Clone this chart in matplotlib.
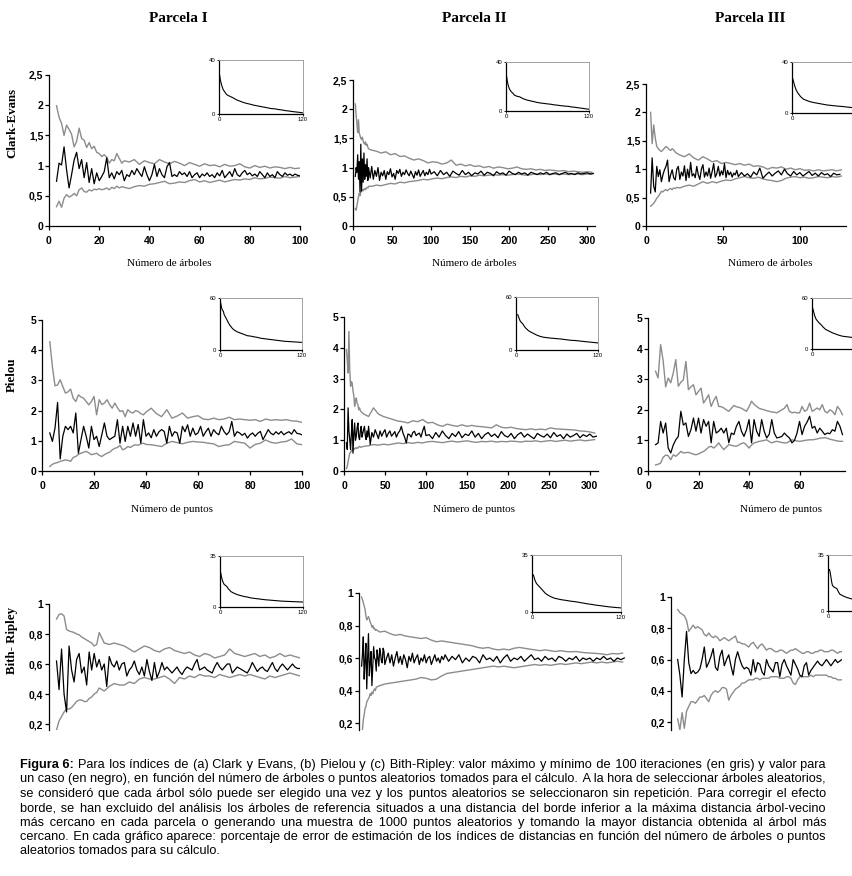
import numpy as np
import matplotlib
matplotlib.use("Agg")
import matplotlib.pyplot as plt

W, H = 852, 876
GRAY = "#8c8c8c"
SERIF = "Liberation Serif"
SANS = "Liberation Sans"
CAP_FAM = [SANS, "DejaVu Sans"]

# ---------------- datos: Clark-Evans ----------------
ce1_xg = list(range(3, 31)) + list(range(32, 101, 2))
ce1_hi = [1.99, 1.8, 1.7, 1.5, 1.67, 1.6, 1.52, 1.31, 1.4, 1.62, 1.45, 1.42, 1.3, 1.38, 1.28, 1.32, 1.22, 1.2,
          1.15, 1.18, 1.14, 1.04, 1.1, 1.08, 1.2, 1.12, 1.04, 1.08,
          1.06, 1.1, 1.02, 1.08, 1.05, 1.03, 1.1, 1.06, 1.03, 1.07, 1.04, 1.0, 1.05, 1.02, 0.99, 1.03, 1.0, 1.01,
          0.98, 1.02, 0.99, 1.0, 1.03, 0.98, 0.96, 1.0, 0.97, 0.99, 0.96, 0.98, 0.97, 0.95, 0.97, 0.95, 0.96]
ce1_lo = [0.32, 0.41, 0.31, 0.46, 0.52, 0.48, 0.5, 0.54, 0.5, 0.6, 0.63, 0.57, 0.56, 0.6, 0.58, 0.61, 0.6, 0.62,
          0.6, 0.61, 0.63, 0.6, 0.64, 0.62, 0.66, 0.63, 0.65, 0.64,
          0.62, 0.65, 0.67, 0.66, 0.69, 0.7, 0.72, 0.74, 0.7, 0.71, 0.73, 0.72, 0.75, 0.77, 0.73, 0.75, 0.72, 0.74,
          0.76, 0.73, 0.75, 0.77, 0.76, 0.78, 0.77, 0.8, 0.78, 0.79, 0.81, 0.8, 0.79, 0.82, 0.8, 0.81, 0.82]
ce1_xk = list(range(3, 101))
ce1_k = [0.74, 1.04, 1.01, 1.31, 0.93, 0.63, 0.85, 1.09, 1.22, 0.95,
         1.1, 0.8, 1.05, 0.72, 0.95, 0.7, 0.88, 0.75, 0.82, 0.9,
         1.13, 0.8, 0.88, 0.78, 0.9, 0.85, 0.92, 0.75, 0.85, 0.82,
         0.92, 0.85, 0.95, 0.88, 0.82, 0.98, 0.85, 0.75, 0.85, 1.02,
         0.82, 0.95, 0.85, 0.8, 0.98, 1.05, 0.82, 0.85, 0.82, 0.9,
         0.85, 0.88, 0.82, 0.9, 0.8, 0.85, 0.88, 0.8, 0.86, 0.83,
         0.88, 0.82, 0.85, 0.8, 0.88, 0.83, 0.92, 0.8, 0.85, 0.9,
         0.82, 0.95, 0.85, 0.82, 0.88, 0.92, 0.85, 0.88, 0.83, 0.86,
         0.82, 0.9, 0.85, 0.8, 0.88, 0.82, 0.85, 0.8, 0.9, 0.85,
         0.82, 0.88, 0.84, 0.86, 0.83, 0.86, 0.84, 0.83]

ce2_xg = list(range(3, 21)) + list(range(24, 311, 6))
ce2_hi = [2.09, 1.9, 1.76, 1.6, 1.82, 1.59, 1.55, 1.5, 1.48, 1.52, 1.45, 1.42, 1.4, 1.44, 1.38, 1.4, 1.35, 1.32,
          1.3, 1.28, 1.25, 1.27, 1.22, 1.24, 1.19, 1.2, 1.16, 1.13, 1.15, 1.12, 1.08, 1.1, 1.09, 1.06, 1.08, 1.13,
          1.04, 1.06, 1.03, 1.05, 1.02, 1.03, 1.0, 1.02, 0.99, 1.01, 1.0, 0.98, 0.99, 1.01, 0.98, 0.97, 0.98, 0.96,
          0.97, 0.95, 0.96, 0.95, 0.94, 0.95, 0.93, 0.94, 0.93, 0.92, 0.93, 0.92]
ce2_lo = [0.3, 0.27, 0.35, 0.42, 0.5, 0.56, 0.52, 0.58, 0.6, 0.62, 0.6, 0.63, 0.64, 0.62, 0.65, 0.66, 0.65, 0.68,
          0.68, 0.7, 0.69, 0.71, 0.73, 0.72, 0.75, 0.74, 0.76, 0.77, 0.78, 0.8, 0.79, 0.81, 0.82, 0.81, 0.83, 0.84,
          0.83, 0.85, 0.84, 0.86, 0.85, 0.87, 0.86, 0.87, 0.88, 0.87, 0.88, 0.87, 0.88, 0.89, 0.88, 0.87, 0.88,
          0.89, 0.88, 0.89, 0.88, 0.89, 0.88, 0.89, 0.88, 0.89, 0.89, 0.88, 0.89, 0.89]
ce2_xk = list(range(3, 21)) + list(range(22, 101, 2)) + list(range(104, 310, 4))
ce2_k = [0.85, 1.0, 0.92, 1.22, 0.8, 1.1, 0.58, 1.4, 0.6, 1.15, 0.75, 1.25, 0.8, 1.05, 0.85, 1.15, 0.78, 1.0,
         0.82, 1.02, 0.8, 0.95, 0.85, 1.0, 0.78, 0.92, 0.86, 0.95, 0.8, 0.93, 0.88, 0.98, 0.84, 0.9, 0.8, 0.95,
         0.9, 0.97, 0.85, 0.92, 0.88, 0.96, 0.9, 0.86, 0.94, 0.88, 0.82, 0.93, 0.87, 0.96, 0.85, 0.9, 0.95, 0.86,
         0.92, 0.88, 0.97, 0.89,
         0.93, 0.86, 0.95, 0.88, 0.92, 0.85, 0.94, 0.9, 0.87, 0.95, 0.88, 0.92, 0.86, 0.91, 0.89, 0.94, 0.87,
         0.92, 0.9, 0.86, 0.93, 0.89, 0.91, 0.87, 0.94, 0.9, 0.88, 0.92, 0.89, 0.91, 0.87, 0.92, 0.9, 0.88, 0.91,
         0.89, 0.92, 0.88, 0.9, 0.91, 0.88, 0.9, 0.92, 0.89, 0.9, 0.88, 0.91, 0.89, 0.9, 0.91, 0.89, 0.9]

ce3_xg = list(range(3, 21)) + list(range(22, 128, 3))
ce3_hi = [2.0, 1.45, 1.78, 1.55, 1.4, 1.36, 1.33, 1.31, 1.34, 1.37, 1.4, 1.38, 1.35, 1.33, 1.36, 1.34, 1.3, 1.28,
          1.25, 1.22, 1.27, 1.2, 1.16, 1.22, 1.18, 1.13, 1.15, 1.1, 1.12, 1.1, 1.08, 1.1, 1.07, 1.09, 1.05, 1.06,
          1.04, 1.0, 1.03, 1.02, 1.04, 1.0, 1.02, 0.99, 1.01, 0.98, 0.99, 0.97, 0.99, 0.97, 0.98, 0.99, 0.97, 0.99]
ce3_lo = [0.35, 0.37, 0.4, 0.44, 0.49, 0.52, 0.56, 0.61, 0.6, 0.63, 0.64, 0.62, 0.65, 0.66, 0.64, 0.67, 0.66, 0.68,
          0.67, 0.7, 0.72, 0.7, 0.74, 0.78, 0.75, 0.78, 0.76, 0.79, 0.81, 0.8, 0.83, 0.85, 0.87, 0.85, 0.84, 0.86,
          0.83, 0.81, 0.8, 0.78, 0.8, 0.84, 0.86, 0.87, 0.85, 0.86, 0.84, 0.85, 0.87, 0.86, 0.85, 0.87, 0.86, 0.88]
ce3_xk = list(range(3, 61)) + list(range(62, 128, 2))
ce3_k = [0.58, 1.2, 0.7, 0.6, 1.05, 0.87, 0.99, 0.78, 0.9, 0.99, 1.05, 1.16, 0.78, 0.9, 0.99, 0.85, 0.81, 1.0,
         1.05, 0.82, 0.95, 0.88, 1.06, 0.8, 1.0, 0.85, 1.12, 0.88, 0.92, 0.85, 1.05, 0.9, 0.82, 1.0, 1.08, 0.86,
         0.95, 0.88, 1.02, 0.84, 0.96, 1.1, 0.86, 0.92, 1.05, 0.88, 0.97, 0.9, 1.1, 0.85, 0.98, 0.9, 0.95, 0.86,
         0.93, 0.9, 0.98, 0.87,
         0.94, 0.88, 0.92, 0.86, 0.95, 0.9, 1.02, 0.84, 0.9, 0.95, 0.88, 0.93, 0.97, 0.9, 1.0, 0.92, 0.88, 0.96,
         0.9, 0.94, 0.88, 0.92, 0.96, 0.89, 0.93, 0.88, 0.94, 0.9, 0.92, 0.87, 0.93, 0.9, 0.91]

# ---------------- datos: Pielou ----------------
pi1_xg = list(range(3, 41)) + list(range(42, 101, 2))
pi1_hi = [4.28, 3.46, 2.82, 2.85, 3.02, 2.8, 2.58, 2.62, 2.71, 2.41, 2.3, 2.52, 2.45, 2.41, 2.3, 2.19, 2.3, 2.47,
          1.86, 2.36, 2.2, 2.25, 2.36, 2.2, 2.08, 2.25, 2.1, 1.97, 2.0, 1.8, 2.03, 1.95, 1.92, 2.0, 1.97, 1.9,
          1.86, 1.95,
          2.08, 1.9, 1.8, 2.03, 1.75, 1.82, 1.92, 1.75, 1.8, 1.83, 1.72, 1.7, 1.75, 1.7, 1.72, 1.78, 1.7, 1.72,
          1.7, 1.68, 1.7, 1.64, 1.72, 1.68, 1.7, 1.68, 1.7, 1.66, 1.65, 1.61]
pi1_lo = [0.15, 0.22, 0.26, 0.28, 0.32, 0.34, 0.37, 0.35, 0.32, 0.45, 0.48, 0.55, 0.59, 0.62, 0.65, 0.6, 0.54,
          0.56, 0.59, 0.52, 0.48, 0.54, 0.59, 0.62, 0.7, 0.75, 0.78, 0.85, 0.7, 0.74, 0.81, 0.78, 0.84, 0.87, 0.85,
          0.9, 0.92, 0.88,
          0.87, 0.84, 0.81, 0.92, 0.98, 0.94, 0.9, 0.95, 0.98, 0.96, 0.95, 0.92, 0.9, 0.81, 0.85, 0.87, 0.98,
          0.95, 0.92, 0.76, 0.88, 0.92, 1.03, 0.95, 0.92, 0.96, 0.98, 1.06, 0.9, 0.87]
pi1_xk = list(range(3, 101))
pi1_k = [1.26, 0.98, 1.42, 2.27, 0.4, 1.15, 1.48, 1.37, 1.48, 1.26,
         1.92, 0.59, 1.04, 1.48, 1.15, 0.76, 1.48, 1.04, 1.15, 0.81,
         1.2, 1.59, 1.15, 1.04, 1.1, 1.15, 1.7, 0.92, 1.48, 0.98,
         1.48, 1.15, 1.59, 1.15, 1.54, 0.92, 1.7, 1.15, 1.26, 1.1,
         1.37, 1.15, 1.3, 1.37, 1.31, 0.92, 1.48, 1.15, 1.3, 1.26,
         0.92, 1.48, 1.3, 1.53, 1.15, 1.42, 1.2, 1.26, 1.48, 1.15,
         1.3, 1.42, 1.15, 1.37, 1.26, 1.2, 1.48, 1.31, 1.2, 1.3,
         1.64, 1.15, 1.3, 1.26, 1.18, 1.25, 1.09, 1.2, 1.26, 1.15,
         1.25, 1.31, 1.04, 1.2, 1.37, 1.25, 1.2, 1.3, 1.22, 1.31,
         1.2, 1.26, 1.3, 1.22, 1.37, 1.25, 1.23, 1.2]

pi2_xg = list(range(3, 21)) + list(range(24, 311, 6))
pi2_hi = [3.94, 3.6, 3.18, 4.53, 3.3, 2.75, 2.9, 2.86, 2.6, 2.45, 2.1, 2.3, 2.37, 2.2, 2.15, 1.99, 2.05, 1.95,
          1.85, 1.77, 2.05, 1.85, 1.77, 1.72, 1.67, 1.62, 1.6, 1.56, 1.63, 1.6, 1.67, 1.56, 1.58, 1.5, 1.45, 1.52,
          1.48, 1.45, 1.5, 1.45, 1.48, 1.45, 1.44, 1.42, 1.4, 1.5, 1.42, 1.4, 1.42, 1.38, 1.36, 1.34, 1.37, 1.34,
          1.36, 1.34, 1.4, 1.37, 1.36, 1.35, 1.34, 1.33, 1.3, 1.29, 1.27, 1.23]
pi2_lo = [0.08, 0.15, 0.3, 0.45, 0.58, 0.6, 0.68, 0.65, 0.75, 0.7, 0.72, 0.75, 0.73, 0.76, 0.74, 0.78, 0.8, 0.77,
          0.8, 0.82, 0.86, 0.84, 0.87, 0.85, 0.88, 0.91, 0.89, 0.92, 0.9, 0.93, 0.91, 0.95, 0.96, 0.94, 0.92,
          0.95, 0.97, 0.94, 0.96, 0.98, 0.95, 0.93, 0.96, 0.95, 0.97, 0.94, 0.96, 0.95, 0.97, 0.96, 0.94, 0.97,
          0.96, 0.98, 0.95, 0.97, 0.99, 0.96, 0.98, 1.0, 0.97, 0.99, 1.01, 0.98, 1.0, 1.02]
pi2_xk = list(range(3, 31)) + list(range(32, 101, 2)) + list(range(104, 311, 4))
pi2_k = [0.91, 0.7, 2.05, 1.3, 1.02, 0.7, 1.2, 1.67, 0.58, 1.2, 1.56, 1.0, 1.13, 1.4, 1.56, 1.1, 1.02, 1.3,
         1.45, 1.1, 1.23, 1.35, 1.45, 1.15, 1.02, 1.3, 1.1, 1.45,
         0.86, 1.25, 1.1, 1.34, 1.2, 1.05, 1.3, 1.13, 1.25, 1.34, 1.1, 1.22, 1.3, 1.13, 1.2, 1.28, 1.1, 1.23,
         1.3, 1.45, 1.23, 1.1, 0.91, 1.2, 1.18, 1.1, 1.25, 1.29, 1.15, 1.2, 1.23, 1.1, 1.3, 1.45, 1.15,
         1.18, 1.05, 1.25, 1.1, 1.3, 1.15, 1.05, 1.22, 1.12, 1.28, 1.08, 1.2, 1.15, 1.3, 1.1, 1.22, 1.05, 1.18,
         1.25, 1.12, 1.2, 1.08, 1.28, 1.15, 1.1, 1.22, 1.05, 1.18, 1.25, 1.1, 1.2, 1.12, 1.05, 1.22, 1.15, 1.1,
         1.2, 1.08, 1.25, 1.12, 1.18, 1.05, 1.2, 1.1, 1.15, 1.22, 1.08, 1.18, 1.12, 1.2, 1.1, 1.13]

pi3_x = list(range(3, 78))
pi3_hi = [3.26, 3.04, 4.13, 3.6, 2.75, 3.04, 2.88, 3.2, 3.64, 2.77,
          2.9, 2.98, 3.58, 2.66, 2.75, 2.82, 2.49, 2.6, 2.71, 2.22,
          2.35, 2.49, 2.11, 2.3, 2.44, 2.11, 2.1, 2.06, 2.0, 1.95,
          2.05, 2.14, 2.1, 2.08, 2.05, 2.0, 1.95, 2.1, 2.28, 2.18,
          2.11, 2.05, 2.02, 2.0, 1.97, 1.95, 1.93, 1.92, 1.9, 1.95,
          2.0, 2.05, 2.17, 1.95, 1.9, 1.92, 1.9, 1.9, 2.11, 1.95,
          2.0, 2.22, 1.95, 2.0, 2.06, 2.0, 2.17, 1.95, 1.9, 2.0,
          1.95, 1.84, 2.11, 2.0, 1.84]
pi3_lo = [0.2, 0.22, 0.26, 0.45, 0.52, 0.5, 0.37, 0.53, 0.48, 0.55,
          0.64, 0.59, 0.6, 0.61, 0.58, 0.55, 0.53, 0.56, 0.6, 0.64,
          0.7, 0.78, 0.81, 0.75, 0.82, 0.92, 0.8, 0.7, 0.78, 0.86,
          0.84, 0.82, 0.81, 0.85, 0.9, 0.92, 0.85, 0.75, 0.85, 0.92,
          0.94, 0.97, 0.98, 1.0, 1.02, 0.96, 0.92, 0.95, 0.97, 0.95,
          0.93, 0.92, 0.92, 0.97, 1.02, 1.0, 0.98, 0.97, 0.98, 1.0,
          1.01, 1.02, 1.02, 1.03, 1.05, 1.07, 1.08, 1.09, 1.07, 1.04,
          1.02, 1.0, 0.98, 0.97, 0.97]
pi3_k = [0.86, 0.92, 1.62, 1.24, 1.57, 0.75, 0.59, 0.85, 1.02, 1.13,
         1.95, 1.5, 1.57, 1.13, 1.35, 1.73, 1.3, 1.73, 1.24, 1.68,
         1.46, 1.62, 0.92, 1.62, 1.24, 1.3, 1.4, 1.24, 1.4, 0.92,
         1.24, 1.19, 1.46, 1.62, 1.3, 1.13, 1.35, 1.68, 0.92, 1.68,
         1.3, 1.13, 1.68, 1.3, 1.08, 1.2, 1.68, 1.24, 1.08, 1.1,
         1.13, 1.24, 1.15, 1.08, 0.92, 1.0, 1.24, 1.62, 1.19, 1.46,
         1.6, 1.79, 1.4, 1.46, 1.24, 1.4, 1.3, 1.19, 1.24, 1.22,
         1.35, 1.3, 1.62, 1.46, 1.19]

# ---------------- datos: Bith-Ripley ----------------
br1_xg = list(range(3, 21)) + list(range(22, 101, 2))
br1_hi = [0.9, 0.93, 0.935, 0.92, 0.83, 0.82, 0.815, 0.81, 0.8, 0.795, 0.78, 0.77, 0.76, 0.75, 0.74, 0.72, 0.73,
          0.81,
          0.74, 0.73, 0.74, 0.73, 0.72, 0.7, 0.68, 0.7, 0.72, 0.71, 0.69, 0.68, 0.7, 0.71, 0.69, 0.68, 0.67, 0.68,
          0.66, 0.65, 0.67, 0.66, 0.64, 0.65, 0.66, 0.7, 0.67, 0.66, 0.65, 0.66, 0.67, 0.65, 0.66, 0.64, 0.65,
          0.67, 0.65, 0.66, 0.65, 0.64]
br1_lo = [0.16, 0.22, 0.25, 0.28, 0.3, 0.3, 0.31, 0.33, 0.35, 0.36, 0.36, 0.35, 0.35, 0.37, 0.38, 0.4, 0.41, 0.44,
          0.42, 0.45, 0.47, 0.46, 0.46, 0.48, 0.47, 0.5, 0.51, 0.5, 0.5, 0.51, 0.52, 0.5, 0.47, 0.51, 0.5, 0.52,
          0.51, 0.53, 0.52, 0.52, 0.51, 0.53, 0.52, 0.51, 0.52, 0.53, 0.52, 0.53, 0.52, 0.51, 0.5, 0.52, 0.51,
          0.52, 0.53, 0.54, 0.53, 0.52]
br1_xk = list(range(3, 101))
br1_k = [0.62, 0.43, 0.7, 0.4, 0.28, 0.72, 0.56, 0.48, 0.63, 0.67,
         0.54, 0.58, 0.46, 0.68, 0.56, 0.67, 0.58, 0.63, 0.56, 0.6,
         0.45, 0.65, 0.6, 0.58, 0.62, 0.56, 0.6, 0.61, 0.52, 0.56,
         0.58, 0.62, 0.56, 0.53, 0.58, 0.52, 0.63, 0.55, 0.49, 0.61,
         0.51, 0.55, 0.61, 0.56, 0.58, 0.56, 0.54, 0.56, 0.58, 0.55,
         0.53, 0.56, 0.58, 0.57, 0.56, 0.6, 0.63, 0.56, 0.57, 0.58,
         0.56, 0.55, 0.54, 0.58, 0.61, 0.58, 0.56, 0.58, 0.6, 0.6,
         0.54, 0.56, 0.58, 0.57, 0.56, 0.55, 0.54, 0.57, 0.61, 0.58,
         0.55, 0.57, 0.58, 0.56, 0.55, 0.58, 0.61, 0.57, 0.55, 0.58,
         0.6, 0.58, 0.56, 0.58, 0.6, 0.58, 0.57, 0.57]

br2_xg = list(range(3, 21)) + list(range(24, 311, 6))
br2_hi = [0.975, 0.96, 0.94, 0.92, 0.9, 0.86, 0.835, 0.845, 0.855, 0.84, 0.82, 0.81, 0.79, 0.8, 0.78, 0.785,
          0.77, 0.775,
          0.76, 0.765, 0.75, 0.74, 0.745, 0.735, 0.73, 0.725, 0.72, 0.725, 0.71, 0.7, 0.705, 0.7, 0.695, 0.69,
          0.685, 0.68, 0.675, 0.665, 0.66, 0.665, 0.655, 0.65, 0.655, 0.65, 0.66, 0.665, 0.66, 0.655, 0.65,
          0.645, 0.65, 0.645, 0.64, 0.645, 0.64, 0.638, 0.64, 0.635, 0.632, 0.63, 0.628, 0.625, 0.62, 0.628,
          0.625, 0.63]
br2_lo = [0.12, 0.16, 0.22, 0.25, 0.29, 0.3, 0.33, 0.34, 0.35, 0.36, 0.38, 0.37, 0.39, 0.38, 0.4, 0.41, 0.4, 0.42,
          0.43, 0.44, 0.445, 0.45, 0.455, 0.46, 0.465, 0.47, 0.48, 0.475, 0.465, 0.47, 0.49, 0.505, 0.51, 0.515,
          0.52, 0.525, 0.53, 0.535, 0.54, 0.545, 0.55, 0.545, 0.55, 0.545, 0.54, 0.545, 0.55, 0.555, 0.56, 0.555,
          0.56, 0.555, 0.56, 0.565, 0.56, 0.565, 0.57, 0.565, 0.57, 0.575, 0.57, 0.575, 0.57, 0.575, 0.58, 0.575]
br2_xk = list(range(3, 31)) + list(range(32, 101, 2)) + list(range(104, 311, 4))
br2_k = [0.55, 0.62, 0.73, 0.47, 0.58, 0.69, 0.41, 0.6, 0.75, 0.49, 0.57, 0.64, 0.43, 0.55, 0.67, 0.6, 0.59, 0.52,
         0.65, 0.6, 0.55, 0.66, 0.63, 0.58, 0.57, 0.66, 0.64, 0.56,
         0.6, 0.63, 0.57, 0.62, 0.55, 0.6, 0.64, 0.57, 0.61, 0.56, 0.62, 0.59, 0.54, 0.61, 0.58, 0.63, 0.57, 0.6,
         0.62, 0.56, 0.6, 0.58, 0.62, 0.57, 0.6, 0.61, 0.56, 0.59, 0.62, 0.58, 0.6, 0.57, 0.61, 0.59, 0.62,
         0.58, 0.61, 0.59, 0.62, 0.57, 0.6, 0.58, 0.61, 0.6, 0.57, 0.62, 0.59, 0.6, 0.58, 0.61, 0.57, 0.6, 0.62,
         0.58, 0.6, 0.59, 0.61, 0.58, 0.6, 0.62, 0.59, 0.6, 0.58, 0.61, 0.59, 0.6, 0.58, 0.61, 0.6, 0.58, 0.6,
         0.59, 0.61, 0.58, 0.6, 0.59, 0.6, 0.58, 0.6, 0.59, 0.61, 0.59, 0.6, 0.58, 0.6, 0.59, 0.6]

br3_x = list(range(3, 78))
br3_hi = [0.92, 0.9, 0.89, 0.88, 0.85, 0.78, 0.8, 0.82, 0.8, 0.81,
          0.8, 0.79, 0.76, 0.75, 0.77, 0.75, 0.74, 0.75, 0.74, 0.72,
          0.73, 0.74, 0.73, 0.72, 0.73, 0.74, 0.75, 0.71, 0.71, 0.7,
          0.7, 0.69, 0.68, 0.7, 0.71, 0.69, 0.67, 0.69, 0.7, 0.68,
          0.66, 0.67, 0.67, 0.66, 0.65, 0.65, 0.66, 0.66, 0.65, 0.64,
          0.65, 0.66, 0.66, 0.67, 0.66, 0.65, 0.64, 0.64, 0.65, 0.65,
          0.64, 0.64, 0.65, 0.65, 0.66, 0.66, 0.65, 0.65, 0.65, 0.66,
          0.66, 0.65, 0.64, 0.65, 0.65]
br3_lo = [0.22, 0.15, 0.26, 0.16, 0.27, 0.3, 0.33, 0.33, 0.32, 0.34,
          0.36, 0.36, 0.37, 0.35, 0.33, 0.37, 0.39, 0.4, 0.39, 0.4,
          0.42, 0.42, 0.41, 0.34, 0.37, 0.39, 0.41, 0.42, 0.43, 0.45,
          0.45, 0.46, 0.47, 0.47, 0.47, 0.48, 0.48, 0.47, 0.48, 0.48,
          0.48, 0.48, 0.49, 0.49, 0.49, 0.49, 0.48, 0.48, 0.48, 0.49,
          0.49, 0.48, 0.45, 0.44, 0.47, 0.49, 0.49, 0.49, 0.49, 0.49,
          0.5, 0.49, 0.5, 0.5, 0.5, 0.5, 0.5, 0.5, 0.49, 0.49,
          0.48, 0.48, 0.47, 0.47, 0.47]
br3_k = [0.6, 0.5, 0.36, 0.6, 0.78, 0.58, 0.51, 0.53, 0.51, 0.52,
         0.54, 0.6, 0.68, 0.55, 0.58, 0.62, 0.67, 0.55, 0.53, 0.62,
         0.66, 0.56, 0.6, 0.63, 0.56, 0.5, 0.6, 0.65, 0.6, 0.56,
         0.54, 0.55, 0.54, 0.5, 0.6, 0.52, 0.58, 0.57, 0.52, 0.5,
         0.6, 0.56, 0.54, 0.52, 0.58, 0.58, 0.49, 0.57, 0.6, 0.56,
         0.53, 0.5, 0.6, 0.57, 0.54, 0.5, 0.49, 0.56, 0.58, 0.5,
         0.53, 0.55, 0.57, 0.59, 0.57, 0.56, 0.58, 0.6, 0.58, 0.56,
         0.58, 0.6, 0.58, 0.59, 0.6]

# ---------------- datos: recuadros (% error) ----------------
ins_x = [1, 2, 3, 4, 5, 6, 8, 10, 12, 14, 16, 18, 20, 25, 30, 35, 40, 45, 50, 55, 60, 65, 70, 75, 80, 85, 90,
         95, 100, 105, 110, 115, 120]
ins_ce1 = [28.5, 25, 23, 21, 19.5, 18, 16.5, 15, 14, 13.5, 13, 12.5, 12, 10.5, 9.5, 8.5, 7.8, 7.2, 6.5, 6, 5.5,
           5, 4.5, 4, 3.8, 3.3, 3, 2.5, 2.2, 1.8, 1.5, 1.2, 0.8]
ins_ce2 = [28, 24, 21.5, 19.5, 18, 17, 15.5, 14.5, 13, 12.5, 12, 11.8, 11.5, 10, 9, 8.3, 7.7, 7, 6.5, 6.2, 5.8,
           5.5, 5, 4.7, 4.3, 4, 3.8, 3.3, 3, 2.6, 2.2, 1.8, 1.4]
ins_ce3 = [27, 25, 23, 21, 19.5, 18, 16, 14.5, 13, 12, 11, 10.5, 10, 9, 8.3, 7.8, 7.3, 6.8, 6.3, 6, 5.7, 5.4,
           5.2, 4.9, 4.6, 4.3, 4, 3.7, 3.4, 3.1, 2.8, 2.5, 2.2]
ins_pi1 = [54, 50, 47, 45.5, 44.6, 41, 38, 35, 32, 29, 27, 25, 23.5, 21, 19.5, 18, 16.5, 16, 15.2, 14.5, 13.5,
           13, 12.5, 12, 11.5, 11, 10.5, 10, 9.8, 9.5, 9.3, 9, 8.8]
ins_pi2 = [40, 40, 39.5, 37, 35, 33, 31, 29.5, 27, 25, 23.5, 22, 21, 19, 17, 15.5, 14.5, 14, 13.5, 13.2, 12.8,
           12.5, 12, 11.5, 11, 10.8, 10.5, 10, 9.6, 9.2, 8.8, 8.4, 8]
ins_pi3 = [48, 45, 42, 39, 37, 35, 33, 31, 29.5, 28, 26, 24.5, 23, 21, 19, 17.5, 16, 15, 14.5, 14, 13.5, 13,
           12.5, 12, 11.5, 11, 10.5, 10, 9.8, 9.5, 9.2, 9, 8.8]
ins_br1 = [23.5, 21, 19, 17.5, 16.5, 15.5, 14.8, 14, 12.5, 11.5, 10.5, 10, 9.5, 8.5, 7.8, 7.2, 6.8, 6.2, 5.9,
           5.6, 5.3, 5, 4.8, 4.6, 4.4, 4.2, 4, 3.9, 3.8, 3.7, 3.6, 3.5, 3.4]
ins_br2 = [23, 22.6, 21, 19.5, 18.5, 17.5, 16.5, 15.5, 14.5, 13.5, 12.5, 11.5, 10.8, 9.5, 8.5, 8, 7.5, 7.2, 6.8,
           6.5, 6.2, 5.8, 5.4, 5, 4.7, 4.3, 4, 3.7, 3.4, 3.1, 2.9, 2.7, 2.5]
ins_br3 = [25.6, 26, 24, 21, 18, 16, 15, 14.5, 14, 12, 10.5, 10, 9.5, 8.5, 7.8, 7.2, 6.8, 6.2, 5.9, 5.6, 5.3, 5,
           4.8, 4.6, 4.4, 4.2, 4, 3.9, 3.8, 3.7, 3.6, 3.5, 3.4]

# ---------------- textos ----------------
parcelas = ["Parcela I", "Parcela II", "Parcela III"]
indices = ["Clark-Evans", "Pielou", "Bith- Ripley"]
ce_yt, ce_yl = [0, 0.5, 1, 1.5, 2, 2.5], ["0", "0,5", "1", "1,5", "2", "2,5"]
pi_yt, pi_yl = [0, 1, 2, 3, 4, 5], ["0", "1", "2", "3", "4", "5"]
br_yt, br_yl = [0.2, 0.4, 0.6, 0.8, 1.0], ["0,2", "0,4", "0,6", "0,8", "1"]
caption_bold = "Figura 6:"
caption = [
    "Figura 6: Para los índices de (a) Clark y Evans, (b) Pielou y (c) Bith-Ripley: valor máximo y mínimo de 100 iteraciones (en gris) y valor para",
    "un caso (en negro), en función del número de árboles o puntos aleatorios tomados para el cálculo. A la hora de seleccionar árboles aleatorios,",
    "se consideró que cada árbol sólo puede ser elegido una vez y los puntos aleatorios se seleccionaron sin repetición. Para corregir el efecto",
    "borde, se han excluido del análisis los árboles de referencia situados a una distancia del borde inferior a la máxima distancia árbol-vecino",
    "más cercano en cada parcela o generando una muestra de 1000 puntos aleatorios y tomando la mayor distancia obtenida al árbol más",
    "cercano. En cada gráfico aparece: porcentaje de error de estimación de los índices de distancias en función del número de árboles o puntos",
    "aleatorios tomados para su cálculo.",
]

fig = plt.figure(figsize=(W / 100, H / 100), dpi=100)
fig.patch.set_facecolor("white")


def box(l, t, r, b):
    # caja en pixeles (izq, arriba, der, abajo)
    return fig.add_axes([l / W, 1 - b / H, (r - l) / W, (b - t) / H])


def main_panel(rect, xlim, ylim, yt, yl, xt, series, cut=False):
    ax = box(*rect)
    styles = [(GRAY, 1.0), (GRAY, 1.0), ("black", 0.9)]
    for (x, y), (c, lw) in zip(series, styles):
        n = min(len(x), len(y))
        ax.plot(x[:n], y[:n], color=c, lw=lw, solid_joinstyle="round")
    ax.set_xlim(*xlim)
    ax.set_ylim(*ylim)
    ax.spines["top"].set_visible(False)
    ax.spines["right"].set_visible(False)
    for s in ("left", "bottom"):
        ax.spines[s].set_linewidth(0.9)
    ax.set_yticks(yt)
    ax.set_yticklabels(yl, fontweight="bold", family=SANS, fontsize=7.5)
    ax.tick_params(axis="y", direction="out", length=3, width=0.9, pad=1)
    if cut:
        ax.spines["bottom"].set_visible(False)
        ax.set_xticks([])
    else:
        ax.set_xticks(xt)
        ax.set_xticklabels([str(v) for v in xt], fontweight="bold", family=SANS, fontsize=7.5)
        ax.tick_params(axis="x", direction="out", length=3, width=0.9, pad=4)
    return ax


def inset(rect, y, ymax, show_end=True):
    ax = box(*rect)
    ax.plot(ins_x, y, color="black", lw=0.8)
    ax.set_xlim(0, 120)
    ax.set_ylim(0, ymax)
    ax.set_xticks([0, 120])
    ax.set_yticks([0, ymax])
    ax.set_xticklabels(["0", "120" if show_end else ""], family=SANS, fontsize=4.3)
    ax.set_yticklabels(["0", str(ymax)], family=SANS, fontsize=4.3)
    ax.tick_params(direction="out", length=1.5, width=0.6, pad=1)
    for s in ("top", "right"):
        ax.spines[s].set_color("#a0a0a0")
        ax.spines[s].set_linewidth(0.7)
    for s in ("left", "bottom"):
        ax.spines[s].set_linewidth(0.9)
    return ax


# fila 1: Clark-Evans
main_panel((49, 75, 300, 226), (0, 100), (0, 2.5), ce_yt, ce_yl, [0, 20, 40, 60, 80, 100],
           [(ce1_xg, ce1_hi), (ce1_xg, ce1_lo), (ce1_xk, ce1_k)])
main_panel((353, 80, 595, 226), (0, 310), (0, 2.5), ce_yt, ce_yl, [0, 50, 100, 150, 200, 250, 300],
           [(ce2_xg, ce2_hi), (ce2_xg, ce2_lo), (ce2_xk, ce2_k)])
main_panel((646, 84, 846, 226), (0, 130), (0, 2.5), ce_yt, ce_yl, [0, 50, 100],
           [(ce3_xg, ce3_hi), (ce3_xg, ce3_lo), (ce3_xk, ce3_k)])
inset((219, 60, 303, 114), ins_ce1, 40)
inset((506, 62, 589, 111), ins_ce2, 40)
inset((792, 62, 876, 113), ins_ce3, 40, show_end=False)

# fila 2: Pielou
main_panel((42, 320, 302, 471), (0, 100), (0, 5), pi_yt, pi_yl, [0, 20, 40, 60, 80, 100],
           [(pi1_xg, pi1_hi), (pi1_xg, pi1_lo), (pi1_xk, pi1_k)])
main_panel((344, 317, 598, 471), (0, 310), (0, 5), pi_yt, pi_yl, [0, 50, 100, 150, 200, 250, 300],
           [(pi2_xg, pi2_hi), (pi2_xg, pi2_lo), (pi2_xk, pi2_k)])
main_panel((648, 318, 845, 471), (0, 78), (0, 5), pi_yt, pi_yl, [0, 20, 40, 60],
           [(pi3_x, pi3_hi), (pi3_x, pi3_lo), (pi3_x, pi3_k)])
inset((220, 298, 302, 350), ins_pi1, 60)
inset((516, 297, 598, 350), ins_pi2, 60)
inset((812, 298, 894, 349), ins_pi3, 60, show_end=False)

# fila 3: Bith-Ripley (recortada por abajo)
main_panel((49, 604, 300, 730), (0, 100), (0.16, 1.0), br_yt, br_yl, None,
           [(br1_xg, br1_hi), (br1_xg, br1_lo), (br1_xk, br1_k)], cut=True)
main_panel((359, 593, 626, 730), (0, 310), (0.157, 1.0), br_yt, br_yl, None,
           [(br2_xg, br2_hi), (br2_xg, br2_lo), (br2_xk, br2_k)], cut=True)
main_panel((671, 597, 842, 730), (0, 77), (0.149, 1.0), br_yt, br_yl, None,
           [(br3_x, br3_hi), (br3_x, br3_lo), (br3_x, br3_k)], cut=True)
inset((220, 556, 303, 607), ins_br1, 35)
inset((532, 555, 621, 612), ins_br2, 35)
inset((828, 555, 917, 611), ins_br3, 35, show_end=False)


def ftext(x, y, s, **kw):
    return fig.text(x / W, 1 - y / H, s, **kw)


for cx, name in zip([178, 474, 750], parcelas):
    ftext(cx, 18, name, ha="center", va="center", family=SERIF, fontweight="bold", fontsize=11)

for cy, name in zip([123, 375, 640], indices):
    ftext(12, cy, name, ha="center", va="center", rotation=90, family=SERIF, fontweight="bold", fontsize=9.3)

for cx, cy, name in [(169, 263, "Número de árboles"), (474, 263, "Número de árboles"), (770, 263, "Número de árboles"),
                     (172, 509, "Número de puntos"), (474, 509, "Número de puntos"), (781, 509, "Número de puntos")]:
    ftext(cx, cy, name, ha="center", va="center", family=SERIF, fontsize=8)

# ---------------- pie de figura justificado (una línea = un texto) ----------------
renderer = fig.canvas.get_renderer()
HAIR = "\u200a"


def measure(s, fs, weight="normal"):
    t = fig.text(0, 0, s, fontsize=fs, fontweight=weight, family=CAP_FAM)
    w = t.get_window_extent(renderer=renderer).width
    t.remove()
    return w


cap_left, cap_right = 20, 826
target = cap_right - cap_left

# tamaño de letra ajustado para que la primera línea llene el ancho
fs0 = 10.0
rest0 = caption[0][len(caption_bold) + 1:]
nat0 = measure(caption_bold, fs0, "bold") + (measure("a a", fs0) - measure("aa", fs0)) + measure(rest0, fs0)
fs = fs0 * target * 0.985 / nat0
hs = (measure("a" + HAIR * 10 + "a", fs) - measure("aa", fs)) / 10.0
if hs < 0.2:
    HAIR = "\u2009"
    hs = (measure("a" + HAIR * 10 + "a", fs) - measure("aa", fs)) / 10.0

base0, step = 768, 14.4
for i, line in enumerate(caption):
    yb = base0 + step * i
    x0 = cap_left
    if i == 0:
        units = [caption_bold] + line[len(caption_bold) + 1:].split(" ")
        wts = ["bold"] + ["normal"] * (len(units) - 1)
    else:
        units = line.split(" ")
        wts = ["normal"] * len(units)
    widths = [measure(u, fs, w) for u, w in zip(units, wts)]
    last = i == len(caption) - 1
    if i == 0:
        ftext(x0, yb, caption_bold, ha="left", va="baseline", family=CAP_FAM, fontweight="bold", fontsize=fs)
    if last:
        ftext(x0, yb, line, ha="left", va="baseline", family=CAP_FAM, fontsize=fs)
        continue
    gap = (target - sum(widths)) / (len(units) - 1)
    start = 1 if i == 0 else 0
    xs = x0 + sum(widths[:start]) + gap * start
    cur = units[start]
    for k in range(start + 1, len(units)):
        end_target = sum(widths[start:k + 1]) + gap * (k - start)
        plain = measure(cur + " " + units[k], fs)
        n = max(0, int(round((end_target - plain) / hs)))
        cur = cur + " " + HAIR * n + units[k]
    ftext(xs, yb, cur, ha="left", va="baseline", family=CAP_FAM, fontsize=fs)

fig.savefig("out.png", dpi=100, facecolor="white")
